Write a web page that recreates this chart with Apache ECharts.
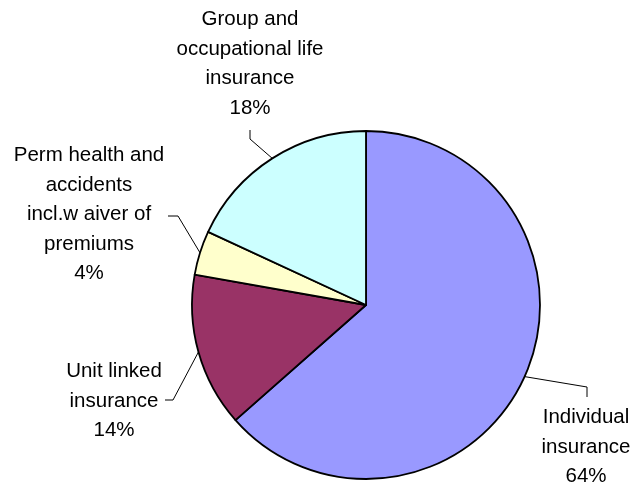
<!DOCTYPE html>
<html>
<head>
<meta charset="utf-8">
<script src="https://cdn.jsdelivr.net/npm/echarts@6/dist/echarts.min.js"></script>
<style>
    html, body { margin: 0; padding: 0; background: #fff; }
    #chart { width: 636px; height: 483px; }
</style>
</head>
<body>
<div id="chart"></div>
<script>
// categories and shares (%)
var categories = [
    'Individual\ninsurance',
    'Unit linked\ninsurance',
    'Perm health and\naccidents\nincl.w aiver of\npremiums',
    'Group and\noccupational life\ninsurance'
];
var shares = [63.5, 14.3, 4.1, 18.1];
var colors = ['#9999FF', '#993366', '#FFFFCC', '#CCFFFF'];

// where each label sits (center x, top y) and the bend of its leader line
var labelSpots = [
    {x: 586, y: 403, bend: [[587, 387], [587, 397]]},
    {x: 114, y: 357, bend: [[173, 400], [165, 400]]},
    {x: 89, y: 141, bend: [[178, 216], [168, 216]]},
    {x: 250, y: 5, bend: [[250, 139], [250, 130]]}
];

var myChart = echarts.init(document.getElementById('chart'));
var option = {
    backgroundColor: '#fff',
    animation: false,
    series: [{
        type: 'pie',
        center: [366, 305],
        radius: 174,
        startAngle: 90,
        clockwise: true,
        percentPrecision: 0,
        data: categories.map(function (name, i) {
            return {name: name, value: shares[i], itemStyle: {color: colors[i]}};
        }),
        itemStyle: {
            borderColor: '#000',
            borderWidth: 1.8
        },
        label: {
            show: true,
            position: 'outside',
            formatter: '{b}\n{d}%',
            color: '#000',
            fontFamily: 'Liberation Sans, Arial, sans-serif',
            fontSize: 20.5,
            lineHeight: 29.5,
            align: 'center',
            overflow: 'none'
        },
        labelLine: {
            show: true,
            lineStyle: {color: '#000', width: 1}
        },
        emphasis: {disabled: true},
        labelLayout: function (params) {
            var s = labelSpots[params.dataIndex];
            var pts = params.labelLinePoints;
            var start = pts ? pts[0] : s.bend[0];
            return {
                x: s.x,
                y: s.y,
                align: 'center',
                verticalAlign: 'top',
                labelLinePoints: [start, s.bend[0], s.bend[1]]
            };
        }
    }]
};
myChart.setOption(option);
</script>
</body>
</html>
